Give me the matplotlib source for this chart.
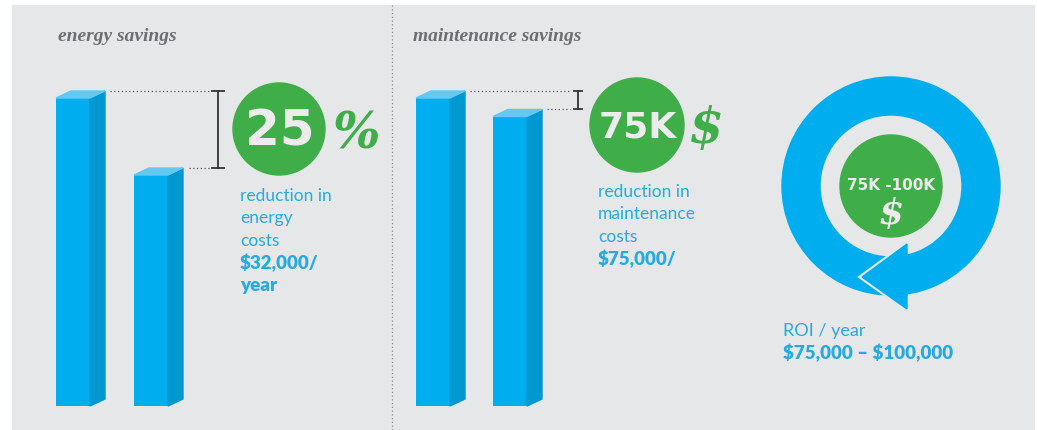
import matplotlib
matplotlib.use("Agg")
import matplotlib.pyplot as plt
from matplotlib.patches import Rectangle, Polygon, Circle, Wedge

plt.rcParams["text.parse_math"] = False

# data (relative cost levels, before / after)
energy_costs = [100, 75]
maintenance_costs = [100, 94]
titles = ["energy savings", "maintenance savings"]
energy_lines = ["reduction in", "energy", "costs"]
energy_bold = ["$32,000/", "year"]
maint_lines = ["reduction in", "maintenance", "costs"]
maint_bold = ["$75,000/"]
badge_energy = "25"
badge_maint = "75K"
roi_badge = "75K -100K"
roi_label = "ROI / year"
roi_value = "$75,000 – $100,000"

W, H = 1037, 431
BG = "#e6e7e8"
BLUE = "#00aeef"
BLUE_SIDE = "#0098d0"
BLUE_TOP = "#62c9f2"
GREEN = "#3fae49"
TXT_BLUE = "#27aae1"
GREY_T = "#6d6e71"

def Y(y):
    # pixel row (from top) -> axis coordinate
    return H - y

fig = plt.figure(figsize=(W / 100, H / 100), dpi=100)
ax = fig.add_axes([0, 0, 1, 1])
ax.set_xlim(0, W)
ax.set_ylim(0, H)
ax.axis("off")

ax.add_patch(Rectangle((12, 0), 1022, Y(6), color=BG, zorder=0))
ax.plot([392, 392], [0, Y(6)], ls=(0, (1, 2)), color="#8a8a8a", lw=0.9)

base = Y(407)
scale = 3.08
bw, dx, dy = 34, 15, 7

def bars(xs, vals):
    hs = [v * scale for v in vals]
    ax.bar(xs, hs, width=bw, bottom=base, align="edge", color=BLUE, zorder=2)
    for x, h in zip(xs, hs):
        top = base + h
        ax.add_patch(Polygon([(x + bw, base), (x + bw + dx, base + dy),
                              (x + bw + dx, top + dy), (x + bw, top)],
                             color=BLUE_SIDE, zorder=2))
        ax.add_patch(Polygon([(x, top), (x + dx, top + dy),
                              (x + bw + dx, top + dy), (x + bw, top)],
                             color=BLUE_TOP, zorder=2))
    return [base + h + dy for h in hs]

def bracket(x0a, x0b, xb, tops, serif):
    ax.plot([x0a, xb - 8], [tops[0]] * 2, ls=(0, (1, 2)), color="#555555", lw=0.9)
    ax.plot([x0b, xb - 8], [tops[1]] * 2, ls=(0, (1, 2)), color="#555555", lw=0.9)
    ax.plot([xb, xb], tops, color="#333333", lw=1.3)
    for t in tops:
        ax.plot([xb - serif, xb + serif], [t, t], color="#333333", lw=1.3)

# energy section
ax.text(58, Y(36), titles[0], family="Liberation Serif", style="italic",
        weight="bold", fontsize=14, color=GREY_T, va="center")
tops = bars([56, 134], energy_costs)
bracket(110, 189, 218, tops, 6)
ax.add_patch(Circle((279, Y(130)), 46, color=GREEN, zorder=3))
ax.text(280, Y(131), badge_energy, fontsize=36, weight="bold", family="DejaVu Sans",
        color="#ececec", ha="center", va="center", zorder=4)
ax.text(357, Y(135), "%", fontsize=36, family="DejaVu Serif", style="italic",
        weight="bold", color=GREEN, ha="center", va="center")
for i, s in enumerate(energy_lines):
    ax.text(240, Y(196 + 22.3 * i), s, fontsize=12.5, family="Lato",
            color=TXT_BLUE, va="center")
for i, s in enumerate(energy_bold):
    ax.text(240, Y(263 + 22.3 * i), s, fontsize=13.5, family="Lato",
            weight="heavy", color=TXT_BLUE, va="center")

# maintenance section
ax.text(413, Y(36), titles[1], family="Liberation Serif", style="italic",
        weight="bold", fontsize=14, color=GREY_T, va="center")
tops = bars([416, 493], maintenance_costs)
bracket(470, 547, 578, tops, 4)
ax.add_patch(Circle((637, Y(126)), 47, color=GREEN, zorder=3))
ax.text(638, Y(127), badge_maint, fontsize=26, weight="bold", family="DejaVu Sans",
        color="#ececec", ha="center", va="center", zorder=4)
ax.text(706, Y(129), "$", fontsize=36, family="DejaVu Serif", style="italic",
        weight="bold", color=GREEN, ha="center", va="center")
for i, s in enumerate(maint_lines):
    ax.text(598, Y(192 + 22.3 * i), s, fontsize=12.5, family="Lato",
            color=TXT_BLUE, va="center")
for i, s in enumerate(maint_bold):
    ax.text(598, Y(259 + 22.3 * i), s, fontsize=13.5, family="Lato",
            weight="heavy", color=TXT_BLUE, va="center")

# ROI cycle
cx, cy = 891, Y(187)
ax.add_patch(Wedge((cx, cy), 109, 0, 360, width=38, color=BLUE, zorder=2))
tip, htop, hbot = (862, Y(278)), (907, Y(245)), (907, Y(310))
ax.plot([htop[0], tip[0], hbot[0]], [htop[1], tip[1], hbot[1]],
        color=BG, lw=4, solid_joinstyle="miter", zorder=3)
ax.add_patch(Polygon([tip, htop, hbot], color=BLUE, zorder=4))
ax.add_patch(Circle((cx, cy), 51, color=GREEN, zorder=3))
ax.text(cx, Y(186), roi_badge, fontsize=11, weight="bold", family="DejaVu Sans",
        color="#ececec", ha="center", va="center", zorder=4)
ax.text(cx, Y(214), "$", fontsize=26, family="DejaVu Serif", style="italic",
        weight="bold", color="#ececec", ha="center", va="center", zorder=4)
ax.text(783, Y(331), roi_label, fontsize=13, family="Lato",
        color=TXT_BLUE, va="center")
ax.text(783, Y(353), roi_value, fontsize=13.5, family="Lato", weight="heavy",
        color=TXT_BLUE, va="center")

fig.savefig("out.png", dpi=100, facecolor="white")
